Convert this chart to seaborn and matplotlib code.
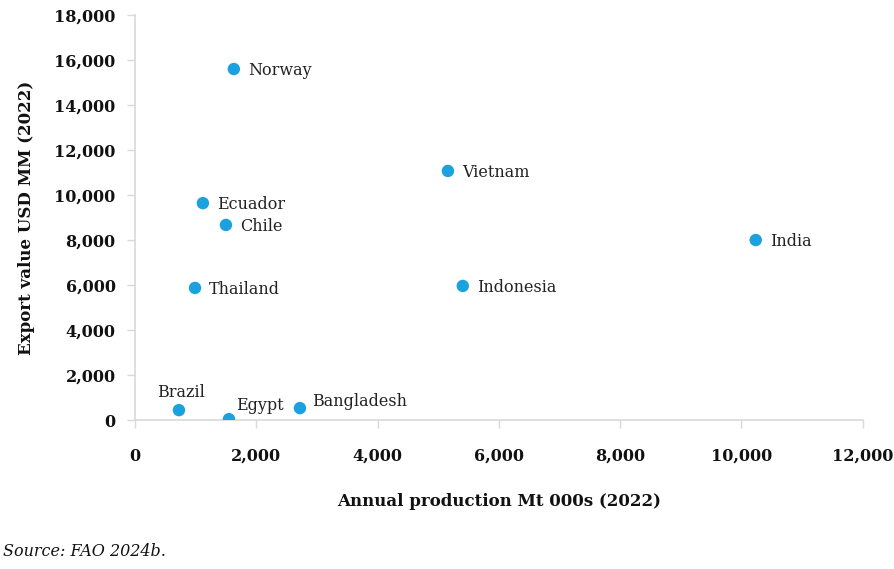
import numpy as np
import matplotlib
matplotlib.use("Agg")
import matplotlib.pyplot as plt
import seaborn as sns
import pandas as pd
from matplotlib.ticker import FuncFormatter

countries = ["Norway", "Vietnam", "Ecuador", "Chile", "India", "Thailand",
             "Indonesia", "Brazil", "Egypt", "Bangladesh"]
production = [1630, 5160, 1120, 1500, 10235, 990, 5405, 725, 1550, 2720]
export_value = [15600, 11070, 9640, 8670, 8000, 5870, 5960, 440, 40, 530]

# label offsets in points (dx, dy)
label_pos = {
    "Brazil": (-16, 13),
    "Egypt": (5, 10),
    "Bangladesh": (9, 5),
}

df = pd.DataFrame(dict(production=production, export_value=export_value, country=countries))

sns.set_style("white")
plt.rcParams["font.family"] = ["DejaVu Serif"]

fig = plt.figure(figsize=(8.95, 5.69), dpi=100)
ax = fig.add_axes([0.1508, 0.2618, 0.8132, 0.7118])

sns.scatterplot(data=df, x="production", y="export_value", ax=ax,
                color="#1ba1de", s=80, edgecolor="none", zorder=3)

for c, x, y in zip(countries, production, export_value):
    dx, dy = label_pos.get(c, (10, -1))
    ax.annotate(c, (x, y), xytext=(dx, dy), textcoords="offset points",
                ha="left", va="center", fontsize=11.5, color="#222222")

ax.set_xlim(0, 12000)
ax.set_ylim(0, 18000)
ax.set_xticks(np.arange(0, 12001, 2000))
ax.set_yticks(np.arange(0, 18001, 2000))
fmt = FuncFormatter(lambda v, p: "{:,.0f}".format(v))
ax.xaxis.set_major_formatter(fmt)
ax.yaxis.set_major_formatter(fmt)

for side in ["top", "right"]:
    ax.spines[side].set_visible(False)
for side in ["left", "bottom"]:
    ax.spines[side].set_color("#d9d9d9")
    ax.spines[side].set_linewidth(1.2)

ax.tick_params(axis="both", which="major", direction="out", length=6, width=1,
               color="#d9d9d9", labelsize=11.5, labelcolor="#111111",
               bottom=True, left=True)
ax.tick_params(axis="x", pad=14)
ax.tick_params(axis="y", pad=8)
for lbl in ax.get_xticklabels() + ax.get_yticklabels():
    lbl.set_fontweight("bold")

ax.set_xlabel("Annual production Mt 000s (2022)", fontsize=12, fontweight="bold",
              labelpad=20, color="#111111")
ax.set_ylabel("Export value USD MM (2022)", fontsize=12, fontweight="bold",
              labelpad=14, color="#111111")

fig.text(0.003, 0.015, "Source: FAO 2024b.", fontsize=11.5, style="italic",
         color="#111111", ha="left", va="bottom")

fig.savefig("out.png", dpi=100)
